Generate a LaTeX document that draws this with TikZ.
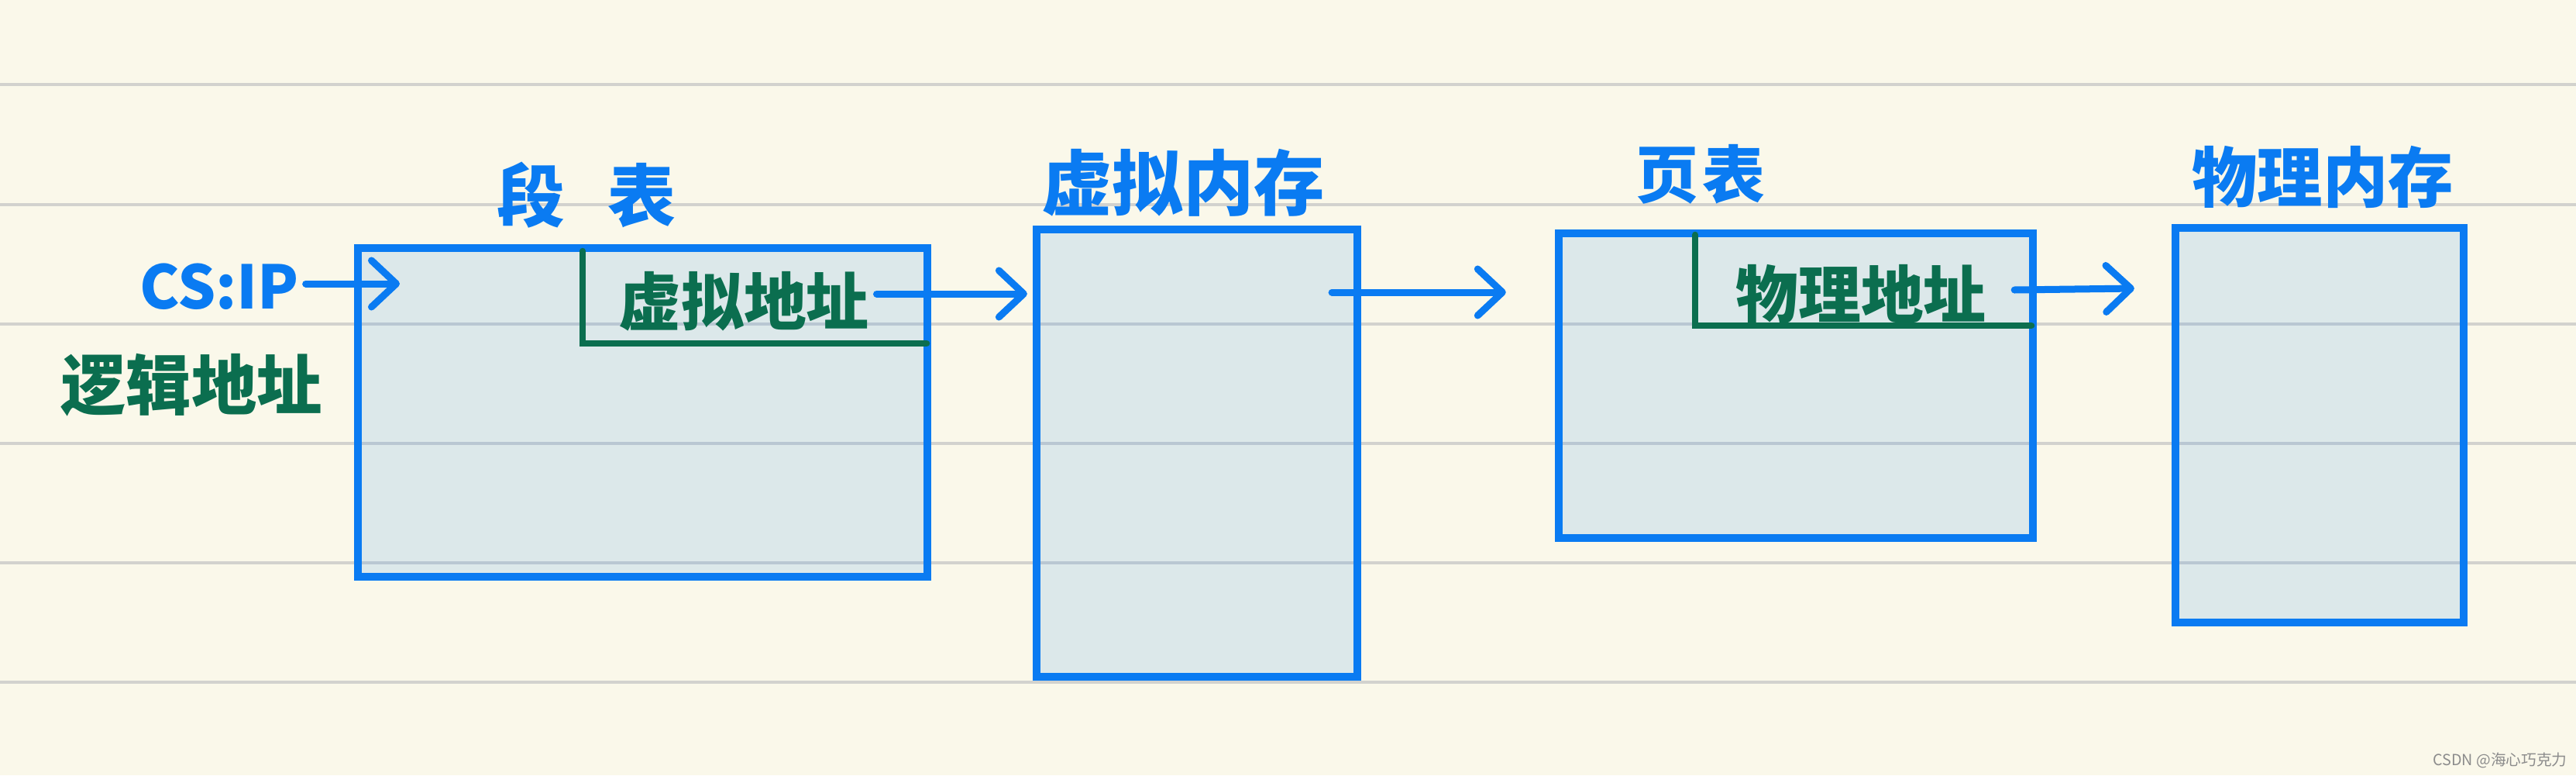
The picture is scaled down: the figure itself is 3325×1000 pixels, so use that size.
\documentclass[tikz,border=0pt]{standalone}
\usepackage{fontspec}
\newfontfamily\cjk{Noto Sans CJK SC}
\usetikzlibrary{arrows.meta}
\definecolor{paper}{HTML}{FAF8EA}
\definecolor{rulegray}{HTML}{D2D2CE}
\definecolor{hblue}{HTML}{0A7BF2}
\definecolor{hgreen}{HTML}{0B6E4F}
\definecolor{wmgray}{HTML}{8C8C8C}
\begin{document}
\begin{tikzpicture}[x=0.01cm,y=-0.01cm,
  memblock/.style={draw=hblue, line width=0.095cm, fill=hblue, fill opacity=0.12, inner sep=0pt, outer sep=0pt},
  gline/.style={draw=hgreen, line width=0.085cm, line cap=round},
  arr/.style={draw=hblue, line width=0.09cm, line cap=round,
    -{Straight Barb[length=0.32cm, width=0.6cm, line cap=round, line join=round]}},
  btext/.style={text=hblue, font=\cjk\bfseries\fontsize{25pt}{25pt}\selectfont, inner sep=0pt},
  gtext/.style={text=hgreen, font=\cjk\bfseries\fontsize{23pt}{23pt}\selectfont, inner sep=0pt}]
% paper
\fill[paper] (0,0) rectangle (3325,1000);
\useasboundingbox (0,0) rectangle (3325,1000);
\foreach \yy in {109,264,418,572,726,880}
  \draw[rulegray, line width=0.035cm] (0,\yy) -- (3325,\yy);
% blocks
\node[memblock, minimum width=7.35cm, minimum height=4.24cm] (seg) at (829.5,532) {};
\node[memblock, minimum width=4.14cm, minimum height=5.77cm] (vmem) at (1545,584.5) {};
\node[memblock, minimum width=6.12cm, minimum height=3.93cm] (pt) at (2318,497.5) {};
\node[memblock, minimum width=3.72cm, minimum height=5.09cm] (pmem) at (2994,548.5) {};
% green L marks
\draw[gline] (752,324) |- (1196,443);
\draw[gline] (2188,303) |- (2622,420);
% titles
\node[btext] (segt) at (757,252) {段\hspace{0.55cm}表};
\node[btext, font=\cjk\bfseries\fontsize{26pt}{26pt}\selectfont] (vmemt) at (1527,236) {虚拟内存};
\node[btext, font=\cjk\bfseries\fontsize{23pt}{23pt}\selectfont] (ptt) at (2195,225) {页\hspace{0.05cm}表};
\node[btext, font=\cjk\bfseries\fontsize{24pt}{24pt}\selectfont] (pmemt) at (2998,228) {物理内存};
\node[btext, font=\cjk\bfseries\fontsize{22pt}{22pt}\selectfont] (cs) at (283,370) {CS:IP};
% green labels
\node[gtext, font=\cjk\bfseries\fontsize{24pt}{24pt}\selectfont] (la) at (247,497) {逻辑地址};
\node[gtext] (va) at (960,389) {虚拟地址};
\node[gtext] (pa) at (2402,380) {物理地址};
% watermark
\node[text=wmgray, font=\cjk\fontsize{5.6pt}{6pt}\selectfont, inner sep=0pt] (wm) at (3227,981) {CSDN @海心巧克力};
% arrows
\coordinate (a1e) at (516,366);
\draw[arr] (cs.east |- a1e) ++(0.08cm,0) -- (a1e);
\draw[arr] ([xshift=0.09cm]va.east |- 0,379) -- ([xshift=-0.12cm]vmem.west |- 0,379);
\draw[arr] ([xshift=-0.33cm]vmem.east |- 0,377) -- ([xshift=-0.68cm]pt.west |- 0,377);
\draw[arr] ([xshift=-0.24cm]pt.east |- 0,374) -- ([xshift=-0.53cm]pmem.west |- 0,372);
\end{tikzpicture}
\end{document}
